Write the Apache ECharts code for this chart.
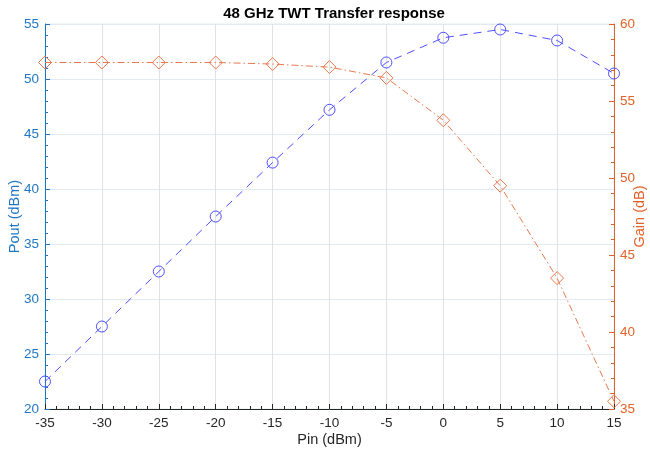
<!DOCTYPE html>
<html>
<head>
<meta charset="utf-8">
<script src="https://cdn.jsdelivr.net/npm/echarts@6/dist/echarts.min.js"></script>
<style>
  html, body { margin: 0; padding: 0; background: #fff; }
  #chart { width: 650px; height: 451px; }
</style>
</head>
<body>
<div id="chart"></div>
<script>
// Input drive levels (dBm)
const pinDbm = [-35, -30, -25, -20, -15, -10, -5, 0, 5, 10, 15];
// Output power (dBm)
const poutDbm = [22.5, 27.5, 32.5, 37.5, 42.4, 47.2, 51.5, 53.75, 54.5, 53.5, 50.5];
// Gain (dB)
const gainDb = [57.5, 57.5, 57.5, 57.5, 57.4, 57.2, 56.5, 53.75, 49.5, 43.5, 35.5];

const BLUE_AX = '#1f77c4';
const ORANGE_AX = '#e0622a';
const BLUE_LINE = '#4d4dff';
const ORANGE_LINE = '#e8784e';
const FONT = '"Liberation Sans", Arial, Helvetica, sans-serif';

const chart = echarts.init(document.getElementById('chart'), null, { renderer: 'canvas' });

chart.setOption({
  animation: false,
  backgroundColor: '#ffffff',
  title: {
    text: '48 GHz TWT Transfer response',
    left: 329, top: 1, textAlign: 'center',
    textStyle: { fontFamily: FONT, fontSize: 15, fontWeight: 'bold', color: '#000' }
  },
  grid: {
    left: 45, right: 36, top: 24, bottom: 42,
    outerBoundsMode: 'none', containLabel: false,
    show: true, borderColor: '#e3ecf3', borderWidth: 1, backgroundColor: 'transparent'
  },
  xAxis: {
    type: 'value', min: -35, max: 15, interval: 5,
    name: 'Pin (dBm)', nameLocation: 'middle', nameGap: 23, nameMoveOverlap: false,
    nameTextStyle: { fontFamily: FONT, fontSize: 14.5, color: '#262626' },
    axisLine: { show: true, onZero: false, lineStyle: { color: '#262626', width: 1 } },
    axisTick: { show: true, inside: true, length: 5, lineStyle: { color: '#262626' } },
    minorTick: { show: true, splitNumber: 5, length: 3, lineStyle: { color: '#262626' } },
    axisLabel: { fontFamily: FONT, fontSize: 13.5, color: '#262626', margin: 7 },
    splitLine: { show: true, lineStyle: { color: '#dfe2e6', width: 1 } }
  },
  yAxis: [
    {
      type: 'value', min: 20, max: 55, interval: 5, position: 'left',
      name: 'Pout (dBm)', nameLocation: 'middle', nameGap: 23, nameRotate: 90, nameMoveOverlap: false,
      nameTextStyle: { fontFamily: FONT, fontSize: 14.5, color: BLUE_AX },
      axisLine: { show: true, onZero: false, lineStyle: { color: BLUE_AX, width: 1 } },
      axisTick: { show: true, inside: true, length: 5, lineStyle: { color: BLUE_AX } },
      minorTick: { show: true, splitNumber: 5, length: 3, lineStyle: { color: BLUE_AX } },
      axisLabel: { fontFamily: FONT, fontSize: 13.5, color: BLUE_AX, margin: 6 },
      splitLine: { show: true, lineStyle: { color: '#e0ebf3', width: 1 } }
    },
    {
      type: 'value', min: 35, max: 60, interval: 5, position: 'right',
      name: 'Gain (dB)', nameLocation: 'middle', nameGap: 18, nameRotate: 90, nameMoveOverlap: false,
      nameTextStyle: { fontFamily: FONT, fontSize: 14.5, color: ORANGE_AX },
      axisLine: { show: true, onZero: false, lineStyle: { color: ORANGE_AX, width: 1 } },
      axisTick: { show: true, inside: true, length: 5, lineStyle: { color: ORANGE_AX } },
      minorTick: { show: true, splitNumber: 5, length: 3, lineStyle: { color: ORANGE_AX } },
      axisLabel: { fontFamily: FONT, fontSize: 13.5, color: ORANGE_AX, margin: 6 },
      splitLine: { show: false }
    }
  ],
  series: [
    {
      name: 'Pout', type: 'line', yAxisIndex: 0,
      data: pinDbm.map((x, i) => [x, poutDbm[i]]),
      symbol: 'circle', symbolSize: 11,
      itemStyle: { color: 'rgba(0,0,0,0)', borderColor: BLUE_LINE, borderWidth: 1 },
      lineStyle: { color: BLUE_LINE, width: 1, type: [8, 6] },
      clip: false, z: 3
    },
    {
      name: 'Gain', type: 'line', yAxisIndex: 1,
      data: pinDbm.map((x, i) => [x, gainDb[i]]),
      symbol: 'diamond', symbolSize: 13,
      itemStyle: { color: 'rgba(0,0,0,0)', borderColor: ORANGE_LINE, borderWidth: 1 },
      lineStyle: { color: ORANGE_LINE, width: 1, type: [7, 3, 1.5, 3] },
      clip: false, z: 3
    }
  ]
});
</script>
</body>
</html>
